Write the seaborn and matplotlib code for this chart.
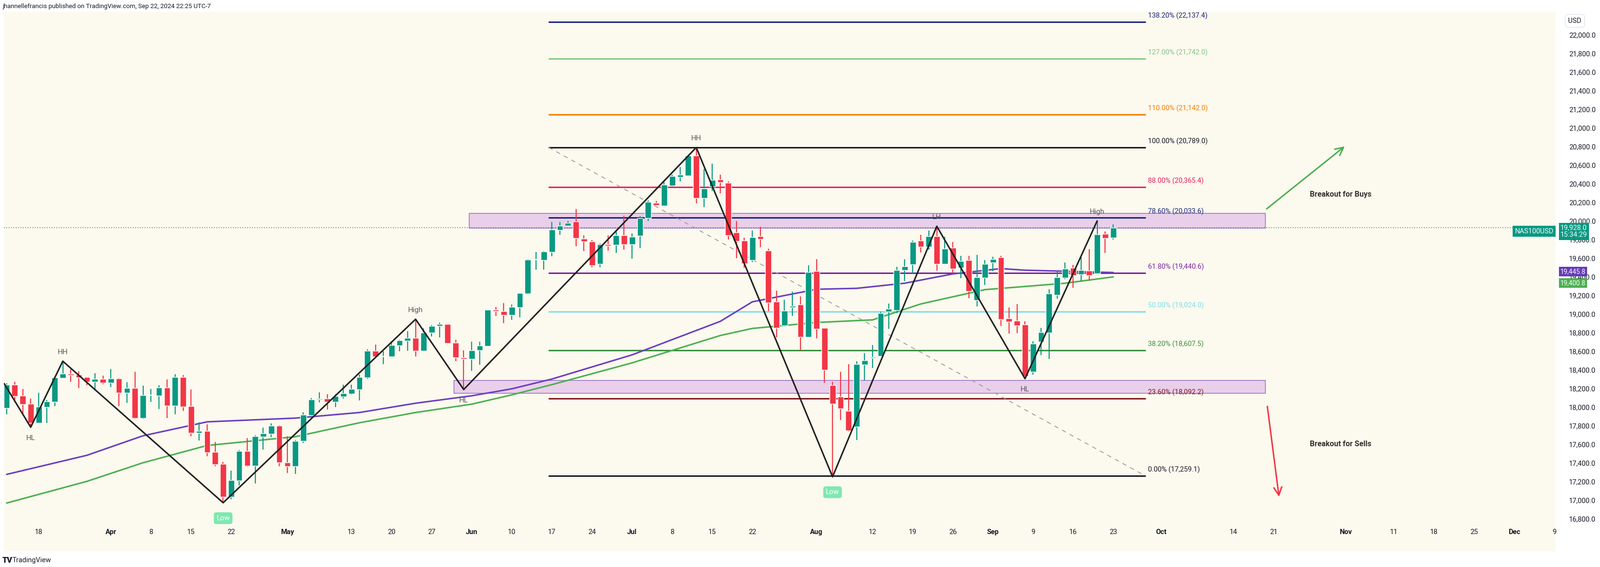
import pandas as pd
import matplotlib
matplotlib.use("Agg")
import matplotlib.pyplot as plt
import matplotlib.transforms as mtransforms
import seaborn as sns

# daily NAS100USD candles, Mar 12 - Sep 23 2024
opens = [17988, 18238, 18121, 18034, 17830, 18000, 18056, 18312, 18357, 18346, 18321, 18270, 18300,
         18259, 18307, 18153, 18201, 17880, 18124, 18121, 18206, 18013, 18321, 18008, 17722, 17743, 17517,
         17389, 17035, 17210, 17526, 17367, 17680, 17710, 17796, 17401, 17363, 17632, 17913, 18078, 18088,
         18057, 18112, 18143, 18189, 18315, 18603, 18542, 18542, 18660, 18710, 18741, 18603, 18797, 18872,
         18889, 18690, 18534, 18514, 18609, 18656, 19045, 19029, 18990, 19071, 19217, 19582, 19580, 19667,
         19903, 19949, 19993, 19809, 19776, 19538, 19748, 19742, 19847, 19750, 19839, 20031, 20196, 20163,
         20380, 20470, 20485, 20700, 20243, 20368, 20447, 20408, 19878, 19788, 19577, 19834, 19681, 19130,
         18875, 19071, 19099, 18750, 19462, 18849, 18232, 18109, 17956, 17790, 18453, 18526, 18548, 19022,
         19042, 19473, 19530, 19791, 19723, 19837, 19538, 19714, 19497, 19576, 19145, 19390, 19555, 19607,
         18950, 18928, 18885, 18376, 18702, 18800, 19205, 19390, 19496, 19422, 19463, 19436, 19860, 19817]
highs = [18256, 18270, 18193, 18090, 18153, 18073, 18316, 18492, 18406, 18381, 18321, 18364, 18338,
         18410, 18312, 18264, 18377, 18227, 18193, 18232, 18295, 18352, 18341, 18188, 17834, 17816, 17623,
         17406, 17316, 17538, 17663, 17697, 17779, 17825, 17803, 17685, 17646, 17940, 18096, 18157, 18136,
         18136, 18238, 18238, 18345, 18619, 18670, 18599, 18704, 18724, 18812, 18943, 18846, 18878, 18907,
         18889, 18724, 18609, 18700, 18700, 19045, 19075, 19116, 19100, 19223, 19588, 19663, 19674, 19988,
         19987, 19998, 20125, 19845, 19794, 19758, 19845, 19890, 20056, 19865, 20049, 20222, 20214, 20426,
         20498, 20579, 20712, 20789, 20559, 20613, 20498, 20426, 19998, 19819, 19896, 19936, 19699, 19252,
         19155, 19240, 19189, 19520, 19589, 18849, 18270, 18380, 18461, 18492, 18577, 18663, 19025, 19111,
         19509, 19586, 19788, 19848, 19897, 19942, 19829, 19771, 19627, 19624, 19634, 19576, 19612, 19627,
         19068, 19104, 18923, 18706, 18848, 19266, 19458, 19552, 19526, 19607, 19697, 20000, 19885, 19962]
lows = [17922, 18051, 17928, 17782, 17830, 17830, 18010, 18307, 18270, 18201, 18235, 18176, 18244,
        18215, 18010, 18044, 17871, 17868, 18056, 17979, 17880, 17922, 17957, 17685, 17637, 17469, 17363,
        16970, 17008, 17158, 17355, 17179, 17543, 17675, 17363, 17292, 17281, 17615, 17879, 18047, 17970,
        18000, 18088, 18132, 18071, 18301, 18542, 18461, 18542, 18599, 18603, 18542, 18603, 18757, 18745,
        18686, 18493, 18187, 18386, 18457, 18650, 18980, 18899, 18939, 18964, 19211, 19477, 19477, 19617,
        19852, 19947, 19725, 19674, 19503, 19503, 19681, 19656, 19691, 19592, 19704, 20000, 20166, 20158,
        20370, 20426, 20485, 20189, 20146, 20324, 20294, 19801, 19597, 19495, 19559, 19717, 19028, 18747,
        18864, 18977, 18609, 18750, 18737, 18262, 17249, 17861, 17734, 17645, 18287, 18420, 18540, 18837,
        19008, 19355, 19436, 19660, 19692, 19466, 19538, 19436, 19381, 19167, 19082, 19313, 19458, 18868,
        18786, 18791, 18304, 18347, 18555, 18517, 19162, 19373, 19282, 19350, 19360, 19436, 19655, 19800]
closes = [18238, 18116, 18030, 17830, 18001, 18059, 18316, 18357, 18343, 18316, 18270, 18300, 18259,
          18307, 18153, 18201, 17880, 18124, 18127, 18206, 18013, 18321, 18005, 17722, 17743, 17512, 17384,
          17035, 17213, 17526, 17367, 17685, 17714, 17796, 17401, 17363, 17634, 17915, 18078, 18088, 18055,
          18116, 18146, 18193, 18321, 18603, 18542, 18544, 18664, 18716, 18741, 18603, 18797, 18872, 18889,
          18686, 18534, 18514, 18609, 18660, 19045, 19029, 18990, 19075, 19223, 19582, 19584, 19670, 19907,
          19949, 19980, 19814, 19776, 19520, 19748, 19730, 19847, 19750, 19832, 20031, 20204, 20166, 20388,
          20482, 20495, 20702, 20243, 20350, 20439, 20414, 19845, 19781, 19541, 19827, 19806, 19120, 18849,
          19035, 19086, 18750, 19452, 18839, 18398, 18035, 17984, 17747, 18461, 18501, 18536, 19008, 19053,
          19473, 19514, 19771, 19720, 19837, 19538, 19701, 19487, 19566, 19244, 19393, 19538, 19591, 18940,
          18919, 18877, 18330, 18683, 18803, 19219, 19393, 19487, 19415, 19470, 19415, 19855, 19812, 19928]

# moving averages sampled at bar index
ma_bars = [0, 10, 17, 25, 36, 44, 51, 58, 63, 68, 78, 89, 93, 101, 106, 112, 118, 124, 127, 138]
ma_purple = [17275, 17480, 17690, 17840, 17880, 17940, 18040, 18120, 18195, 18300, 18560, 18920, 19130,
             19265, 19275, 19330, 19430, 19487, 19470, 19445]
ma_green_bars = [0, 10, 17, 25, 36, 44, 51, 58, 63, 68, 78, 89, 93, 101, 108, 114, 122, 127, 132, 138]
ma_green = [16967, 17200, 17400, 17586, 17680, 17830, 17940, 18030, 18130, 18240, 18474, 18768, 18844,
            18908, 18936, 19107, 19261, 19295, 19330, 19398]

# swing zigzag
zz_bars = [-0.3, 3, 7, 27, 51, 57, 86, 103, 116, 127, 136]
zz_price = [18250, 17782, 18492, 16970, 18943, 18187, 20789, 17249, 19942, 18304, 20000]
swing_labels = [(3, "HL", "below"), (7, "HH", "above"), (27, "Low", "box"), (51, "High", "above"),
                (57, "HL", "below"), (86, "HH", "above"), (103, "Low", "box"), (116, "LH", "above"),
                (127, "HL", "below"), (136, "High", "above")]

# fibonacci levels
fib_pct = ["0.00%", "23.60%", "38.20%", "50.00%", "61.80%", "78.60%", "88.00%", "100.00%", "110.00%",
           "127.00%", "138.20%"]
fib_price = [17259.1, 18092.2, 18607.5, 19024.0, 19440.6, 20033.6, 20365.4, 20789.0, 21142.0, 21742.0,
             22137.4]
fib_colors = ["#131722", "#801922", "#388e3c", "#80deea", "#7b1fa2", "#1a237e", "#e91e63", "#131722",
              "#f57c00", "#81c784", "#1a237e"]

tick_names = ["18", "Apr", "8", "15", "22", "May", "13", "20", "27", "Jun", "10", "17", "24", "Jul", "8",
              "15", "22", "Aug", "12", "19", "26", "Sep", "9", "16", "23", "Oct", "14", "21", "Nov", "11",
              "18", "25", "Dec", "9"]
tick_dates = ["2024-03-18", "2024-04-01", "2024-04-08", "2024-04-15", "2024-04-22", "2024-05-01",
              "2024-05-13", "2024-05-20", "2024-05-27", "2024-06-03", "2024-06-10", "2024-06-17",
              "2024-06-24", "2024-07-01", "2024-07-08", "2024-07-15", "2024-07-22", "2024-08-01",
              "2024-08-12", "2024-08-19", "2024-08-26", "2024-09-02", "2024-09-09", "2024-09-16",
              "2024-09-23", "2024-10-01", "2024-10-14", "2024-10-21", "2024-11-01", "2024-11-11",
              "2024-11-18", "2024-11-25", "2024-12-02", "2024-12-09"]

BG = "#fcf9ee"
UP = "#089981"
DN = "#f23645"
FONT = "Roboto"

# bar calendar (no bar on Good Friday)
cal = pd.bdate_range("2024-03-12", "2024-12-31")
cal = cal[cal != pd.Timestamp("2024-03-29")]
pos = {d: i for i, d in enumerate(cal)}
tick_pos = [pos[pd.Timestamp(d)] for d in tick_dates]

df = pd.DataFrame({"o": opens, "h": highs, "l": lows, "c": closes})
df["bar"] = range(len(df))
df["up"] = df["c"] >= df["o"]

sns.set_style("white")
fig = plt.figure(figsize=(33.52, 11.88), dpi=100, facecolor="white")
ax = fig.add_axes([0.0024, 0.0278, 0.970, 0.951])
ax.set_facecolor(BG)
ax.set_xlim(-0.35, 193.2)
ax.set_ylim(16449, 22245)

# fib levels and labels
fx0, fx1 = 67.6, 142.0
for p, v, col in zip(fib_pct, fib_price, fib_colors):
    ax.plot([fx0, fx1], [v, v], color=col, lw=2.2, zorder=2)
    ax.text(fx1 + 0.35, v + 25, f"{p} ({v:,.1f})", color=col, fontsize=10.5, family=FONT,
            va="bottom", ha="left", zorder=6)
ax.plot([fx0, fx1], [fib_price[7], fib_price[0]], color="#9e9e9e", lw=1.3, ls=(0, (5, 5)), zorder=2)

# zones
for x0, y0, y1 in [(57.7, 19923, 20082), (55.8, 18145, 18283)]:
    ax.add_patch(plt.Rectangle((x0, y0), 157 - x0, y1 - y0, facecolor="#e1bee7", alpha=0.7,
                               edgecolor="#7e57c2", lw=1.3, zorder=1))

# current price line
ax.axhline(closes[-1], color=UP, lw=1.2, ls=(0, (1, 2)), zorder=2)

# moving averages
sns.lineplot(x=ma_bars, y=ma_purple, ax=ax, color="#6a3ec2", lw=2.3, zorder=3)
sns.lineplot(x=ma_green_bars, y=ma_green, ax=ax, color="#4caf50", lw=2.3, zorder=3)

# candles
cols = df["up"].map({True: UP, False: DN})
ax.vlines(df["bar"], df["l"], df["h"], colors=cols, lw=1.6, zorder=4)
body_lo = df[["o", "c"]].min(axis=1)
body_h = (df["c"] - df["o"]).abs().clip(lower=6)
ax.bar(df["bar"], body_h, bottom=body_lo, width=0.76, color=cols, zorder=4)

# zigzag
sns.lineplot(x=zz_bars, y=zz_price, ax=ax, color="#222222", lw=2.3, zorder=5, sort=False)
for b, txt, where in swing_labels:
    i = zz_bars.index(b)
    v = zz_price[i]
    if where == "above":
        ax.text(b, v + 60, txt, ha="center", va="bottom", fontsize=11, color="#555555", family=FONT, zorder=6)
    elif where == "below":
        ax.text(b, v - 80, txt, ha="center", va="top", fontsize=11, color="#555555", family=FONT, zorder=6)
    else:
        ax.text(b, v - 130, txt, ha="center", va="top", fontsize=11, color="white", family=FONT, zorder=6,
                bbox=dict(boxstyle="round,pad=0.35", fc="#7ee8b0", ec="none"))

# breakout arrows and notes
ax.annotate("", xy=(167, 20810), xytext=(157, 20120),
            arrowprops=dict(arrowstyle="->,head_length=1.2,head_width=0.6", color="#4caf50", lw=2.2))
ax.annotate("", xy=(158.7, 17020), xytext=(157.2, 18020),
            arrowprops=dict(arrowstyle="->,head_length=1.2,head_width=0.6", color=DN, lw=2.2))
ax.text(162.5, 20260, "Breakout for Buys", fontsize=11.5, fontweight="bold", color="#333333", family=FONT)
ax.text(162.5, 17580, "Breakout for Sells", fontsize=11.5, fontweight="bold", color="#333333", family=FONT)

# axes styling
for s in ax.spines.values():
    s.set_visible(False)
ax.yaxis.tick_right()
yt = list(range(16800, 22001, 200))
ax.set_yticks(yt)
ax.set_yticklabels([f"{v:,.1f}" for v in yt], fontsize=10.5, family=FONT, color="#131722")
ax.tick_params(axis="y", length=0, pad=20)
ax.set_xticks(tick_pos)
ax.set_xticklabels(tick_names, fontsize=10.5, family=FONT, color="#131722")
for lab in ax.get_xticklabels():
    if lab.get_text().isalpha():
        lab.set_fontweight("bold")
ax.tick_params(axis="x", length=0, pad=-34)
ax.grid(False)

# price tags on the right scale
tr = mtransforms.blended_transform_factory(ax.transAxes, ax.transData)
ax.text(1.003, closes[-1] - 40, "19,928.0\n15:34:29", transform=tr, ha="left", va="center", fontsize=10.5,
        color="white", family=FONT, linespacing=1.05, clip_on=False,
        bbox=dict(boxstyle="square,pad=0.25", fc=UP, ec="none"))
ax.text(0.9985, closes[-1] - 40, "NAS100USD", transform=tr, ha="right", va="center", fontsize=10.5,
        color="white", family=FONT, clip_on=False,
        bbox=dict(boxstyle="square,pad=0.3", fc=UP, ec="none"))
ax.text(1.003, 19445.8 + 10, "19,445.8", transform=tr, ha="left", va="center", fontsize=10, color="white",
        family=FONT, clip_on=False, bbox=dict(boxstyle="square,pad=0.2", fc="#673ab7", ec="none"))
ax.text(1.003, 19400.8 - 70, "19,400.8", transform=tr, ha="left", va="center", fontsize=10, color="white",
        family=FONT, clip_on=False, bbox=dict(boxstyle="square,pad=0.2", fc="#4caf50", ec="none"))
ax.text(1.008, 22150, "USD", transform=tr, ha="left", va="center", fontsize=10.5, color="#131722",
        family=FONT, clip_on=False,
        bbox=dict(boxstyle="round,pad=0.45", fc="white", ec="#e0e3eb"))

fig.text(0.0015, 0.9885, "jhannellefrancis published on TradingView.com, Sep 22, 2024 22:25 UTC-7",
         fontsize=9.5, color="#131722", family=FONT, va="center")
fig.text(0.0015, 0.012, "TV", fontsize=12, fontweight="heavy", color="#131722", family=FONT, va="center")
fig.text(0.0075, 0.012, "TradingView", fontsize=10.5, color="#131722", family=FONT, va="center")

fig.savefig("out.png", dpi=100, facecolor="white")
